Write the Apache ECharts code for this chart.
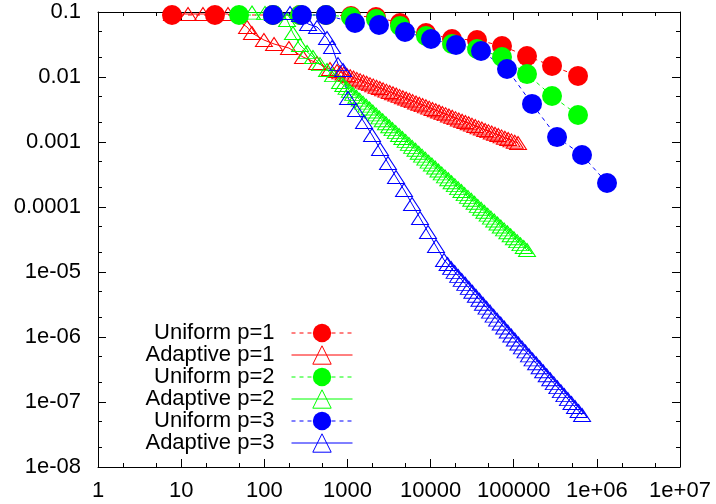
<!DOCTYPE html>
<html>
<head>
<meta charset="utf-8">
<script src="https://cdn.jsdelivr.net/npm/echarts@6/dist/echarts.min.js"></script>
<style>
  html, body { margin: 0; padding: 0; background: #fff; }
  #chart { width: 716px; height: 504px; }
</style>
</head>
<body>
<div id="chart"></div>
<script>
// tick labels
var xTickLabels = ['1', '10', '100', '1000', '10000', '100000', '1e+06', '1e+07']
var yTickLabels = ['1e-08', '1e-07', '1e-06', '1e-05', '0.0001', '0.001', '0.01', '0.1']
// minor ticks (at 2 and 5 of every decade)
var xMinorTicks = [2, 5, 20, 50, 200, 500, 2000, 5000, 2e4, 5e4, 2e5, 5e5, 2e6, 5e6]
var yMinorTicks = [2e-8, 5e-8, 2e-7, 5e-7, 2e-6, 5e-6, 2e-5, 5e-5, 2e-4, 5e-4, 2e-3, 5e-3, 0.02, 0.05]

// Uniform refinement
var uniformP1X = [7.76, 25.5, 127, 269, 552, 1104, 2207, 4288, 8810, 18100, 36200, 72300, 144500, 289000, 593000]
var uniformP1Y = [0.0899, 0.0899, 0.0899, 0.0899, 0.0899, 0.0868, 0.0838, 0.0677, 0.0475, 0.0384, 0.0371, 0.0300, 0.0210, 0.0148, 0.0104]
var uniformP2X = [49.7, 127, 269, 552, 1104, 2207, 4288, 8810, 18100, 36200, 72300, 144500, 289000, 593000]
var uniformP2Y = [0.0899, 0.0899, 0.0899, 0.0899, 0.0838, 0.078, 0.0609, 0.0427, 0.0322, 0.027, 0.0203, 0.0111, 0.0051, 0.0026]
var uniformP3X = [127, 284, 552, 1233, 2398, 4929, 10120, 20230, 40400, 83000, 166000, 332000, 663000, 1325000]
var uniformP3Y = [0.0899, 0.0899, 0.0899, 0.0677, 0.0631, 0.0492, 0.0384, 0.0311, 0.0251, 0.0133, 0.00385, 0.00119, 0.00063, 0.000234]

// Adaptive refinement
var adaptiveP1X = [7.76, 12.1, 18.3, 36.6, 62, 71, 99, 131, 198, 292, 431, 617,
  750, 821, 900, 986, 1080, 1183, 1296, 1420, 1555, 1703, 1866, 2044, 2239, 2452, 2686, 2942,
  3223, 3531, 3867, 4236, 4640, 5083, 5568, 6099, 6681, 7318, 8017, 8782, 9621, 10540, 11545,
  12647, 13853, 15175, 16623, 18209, 19947, 21850, 23933, 26217, 28719, 31460, 34463, 37750,
  41352, 45299, 49621, 54357, 59543, 65225, 71450, 78269, 85738, 93908, 102870, 112690]
var adaptiveP1Y = [0.0932, 0.0932, 0.0932, 0.0932, 0.0588, 0.0475, 0.0371, 0.0322, 0.0279, 0.0203, 0.0164, 0.0133,
  0.01236, 0.0118, 0.01126, 0.01075, 0.01027, 0.0098, 0.00936, 0.00894, 0.00853, 0.00814, 0.00777,
  0.00742, 0.00709, 0.00676, 0.00646, 0.00617, 0.00589, 0.00562, 0.00537, 0.00512, 0.00489, 0.00467,
  0.00446, 0.00426, 0.00406, 0.00388, 0.0037, 0.00354, 0.00338, 0.00322, 0.00308, 0.00294, 0.0028,
  0.00268, 0.00256, 0.00244, 0.00233, 0.00222, 0.00212, 0.00203, 0.00194, 0.00185, 0.00176, 0.00168,
  0.00161, 0.00153, 0.00147, 0.0014, 0.00134, 0.00128, 0.00122, 0.00116, 0.00111, 0.00106, 0.00101, 0.000966]
var adaptiveP2X = [49.7, 71.2, 102, 146, 188, 221, 269, 327, 385, 468, 568, 671,
  815, 892, 977, 1070, 1172, 1283, 1405, 1539, 1686, 1846, 2021, 2214, 2424, 2655, 2907, 3184,
  3487, 3817, 4181, 4578, 5014, 5491, 6012, 6585, 7211, 7897, 8649, 9471, 10373, 11356, 12437,
  13622, 14916, 16335, 17887, 19590, 21455, 23496, 25730, 28177, 30858, 33796, 37007, 40530,
  44383, 48607, 53233, 58293, 63842, 69903, 76560, 83850, 91820, 100550, 110100, 120580, 132060, 144600]
var adaptiveP2Y = [0.098, 0.098, 0.097, 0.0966, 0.0754, 0.0475, 0.0311, 0.0243, 0.0203, 0.0158, 0.0128, 0.0107,
  0.00838, 0.00754, 0.0068, 0.00612, 0.00551, 0.00497, 0.00448, 0.00403, 0.00363, 0.00327, 0.00295,
  0.00266, 0.00239, 0.00216, 0.00194, 0.00175, 0.00158, 0.00142, 0.00128, 0.00115, 0.00104,
  0.000935, 0.000842, 0.000759, 0.000683, 0.000616, 0.000554, 0.000499, 0.00045, 0.000405, 0.000365,
  0.000329, 0.000296, 0.000267, 0.00024, 0.000217, 0.000195, 0.000176, 0.000158, 0.000143, 0.000129,
  0.000116, 0.000104, 9.4e-5, 8.46e-5, 7.63e-5, 6.87e-5, 6.19e-5, 5.57e-5, 5.02e-5, 4.52e-5,
  4.08e-5, 3.67e-5, 3.31e-5, 2.98e-5, 2.68e-5, 2.42e-5, 2.18e-5]
var adaptiveP3X = [127, 204, 269, 336, 431, 568, 653, 771, 885,
  1016, 1268, 1583, 1977, 2466, 3076, 3838, 4794, 5984, 7465, 9311, 11620, 14520,
  16020, 17670, 19490, 21490, 23700, 26160, 28850, 31810, 35090, 38710, 42700, 47100, 51940,
  57290, 63190, 69700, 76900, 84800, 93540, 103180, 113800, 125600, 138500, 152800, 168500,
  185900, 205000, 226100, 249400, 275100, 303400, 334700, 369100, 407100, 449000, 495300,
  546300, 602600, 664600]
var adaptiveP3Y = [0.0932, 0.0966, 0.0899, 0.0654, 0.0588, 0.0398, 0.029, 0.0158, 0.0128,
  0.00475, 0.00311, 0.00203, 0.00128, 0.00078, 0.000475, 0.00029, 0.000183, 0.000111, 6.78e-5,
  4.12e-5, 2.51e-5, 1.53e-5,
  1.33e-5, 1.155e-5, 1.004e-5, 8.72e-6, 7.57e-6, 6.58e-6, 5.71e-6, 4.96e-6, 4.31e-6, 3.75e-6,
  3.25e-6, 2.83e-6, 2.46e-6, 2.13e-6, 1.85e-6, 1.61e-6, 1.4e-6, 1.215e-6, 1.055e-6, 9.17e-7,
  7.96e-7, 6.92e-7, 6.01e-7, 5.22e-7, 4.53e-7, 3.94e-7, 3.42e-7, 2.97e-7, 2.58e-7, 2.24e-7,
  1.95e-7, 1.69e-7, 1.47e-7, 1.277e-7, 1.109e-7, 9.64e-8, 8.37e-8, 7.27e-8, 6.32e-8]

var FONT = 'Liberation Sans'

function pairs (xs, ys) {
  return xs.map(function (x, i) { return [x, ys[i]] })
}

function logLabel (labels, offset) {
  return function (value) {
    return labels[Math.round(Math.log10(value)) + offset]
  }
}

// one log axis: major (with line) or minor ticks, on a given side
function makeAxis (min, max, position, major, labels, offset, margin) {
  var axis = {
    type: 'log',
    logBase: 10,
    min: min,
    max: max,
    position: position,
    splitLine: { show: false },
    minorTick: { show: false },
    axisLine: { show: major, onZero: false, lineStyle: { color: '#000', width: 1 } },
    axisTick: { show: true, inside: true, length: major ? 8 : 4, lineStyle: { color: '#000', width: 1 } },
    axisLabel: { show: false }
  }
  if (!major) {
    axis.axisTick.customValues = labels
  } else if (offset !== null) {
    axis.axisLabel = {
      show: true,
      formatter: logLabel(labels, offset),
      color: '#000',
      fontSize: 22,
      fontFamily: FONT,
      margin: margin
    }
  }
  return axis
}

var red = '#ff0000'
var green = '#00ff00'
var blue = '#0000ff'

function uniformSeries (name, color, xs, ys) {
  return {
    name: name,
    type: 'line',
    data: pairs(xs, ys),
    symbol: 'circle',
    symbolSize: 20,
    clip: false,
    itemStyle: { color: color, borderWidth: 0 },
    lineStyle: { color: color, width: 1, type: [4, 4] },
    emphasis: { disabled: true }
  }
}

function adaptiveSeries (name, color, xs, ys) {
  return {
    name: name,
    type: 'line',
    data: pairs(xs, ys),
    symbol: 'triangle',
    symbolSize: [17, 13],
    clip: false,
    itemStyle: { color: 'rgba(0,0,0,0)', borderColor: color, borderWidth: 1 },
    lineStyle: { color: color, width: 1, type: 'solid' },
    emphasis: { disabled: true }
  }
}

var myChart = echarts.init(document.getElementById('chart'))
var option = {
  animation: false,
  backgroundColor: '#fff',
  textStyle: { fontFamily: FONT },
  grid: { left: 98, right: 36, top: 12, bottom: 37, containLabel: false, outerBoundsMode: 'none' },
  legend: {
    orient: 'vertical',
    align: 'right',
    right: 363,
    top: 322,
    padding: 0,
    itemWidth: 61,
    itemHeight: 23,
    itemGap: 0,
    textStyle: { color: '#000', fontSize: 22, fontFamily: FONT, padding: [0, 12, 0, 0] },
    itemStyle: { borderWidth: 1 },
    lineStyle: { width: 1 },
    data: ['Uniform p=1', 'Adaptive p=1', 'Uniform p=2', 'Adaptive p=2', 'Uniform p=3', 'Adaptive p=3']
  },
  xAxis: [
    makeAxis(1, 1e7, 'bottom', true, xTickLabels, 0, 13),
    makeAxis(1, 1e7, 'bottom', false, xMinorTicks),
    makeAxis(1, 1e7, 'top', true, null, null),
    makeAxis(1, 1e7, 'top', false, xMinorTicks)
  ],
  yAxis: [
    makeAxis(1e-8, 0.1, 'left', true, yTickLabels, 8, 17),
    makeAxis(1e-8, 0.1, 'left', false, yMinorTicks),
    makeAxis(1e-8, 0.1, 'right', true, null, null),
    makeAxis(1e-8, 0.1, 'right', false, yMinorTicks)
  ],
  series: [
    uniformSeries('Uniform p=1', red, uniformP1X, uniformP1Y),
    adaptiveSeries('Adaptive p=1', red, adaptiveP1X, adaptiveP1Y),
    uniformSeries('Uniform p=2', green, uniformP2X, uniformP2Y),
    adaptiveSeries('Adaptive p=2', green, adaptiveP2X, adaptiveP2Y),
    uniformSeries('Uniform p=3', blue, uniformP3X, uniformP3Y),
    adaptiveSeries('Adaptive p=3', blue, adaptiveP3X, adaptiveP3Y)
  ]
}
myChart.setOption(option)
</script>
</body>
</html>
